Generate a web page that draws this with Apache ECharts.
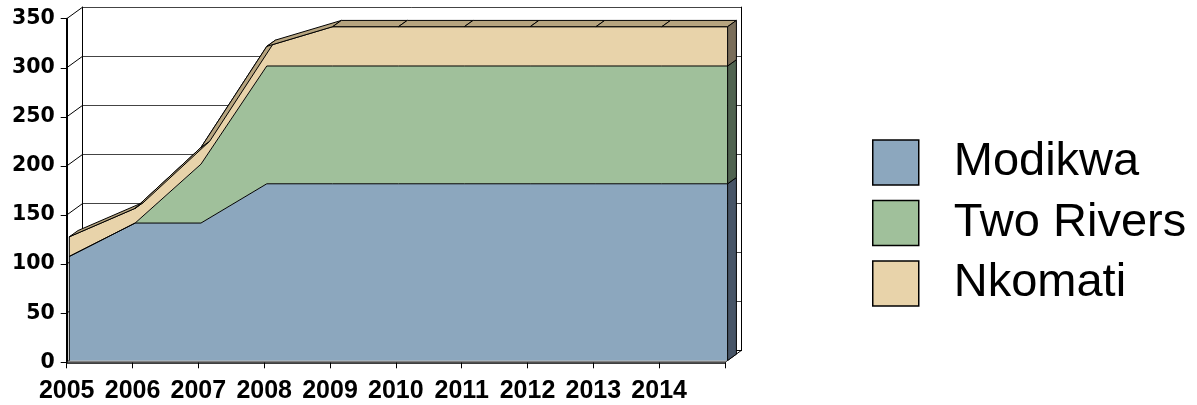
<!DOCTYPE html>
<html>
<head>
<meta charset="utf-8">
<script src="https://cdn.jsdelivr.net/npm/echarts@6/dist/echarts.min.js"></script>
<style>
  html, body { margin: 0; padding: 0; background: #fff; }
  #chart { width: 1197px; height: 405px; }
</style>
</head>
<body>
<div id="chart"></div>
<script>
// ---- data ----
const categories = ['2005', '2006', '2007', '2008', '2009', '2010', '2011', '2012', '2013', '2014', ''];
const modikwa   = [106, 140, 140, 180, 180, 180, 180, 180, 180, 180, 180];
const twoRivers = [0, 0, 60, 120, 120, 120, 120, 120, 120, 120, 120];
const nkomati   = [20, 15, 17, 20, 40, 40, 40, 40, 40, 40, 40];
const seriesNames = ['Modikwa', 'Two Rivers', 'Nkomati'];
const yTicks = [0, 50, 100, 150, 200, 250, 300, 350];

// ---- style ----
const fills = ['#8CA7BE', '#A0C09B', '#E8D3AA'];
const sideFills = ['#475567', '#506350', '#7A6E5A'];
const topFill = '#B6A47F';
const WALL = [16, -11.6];   // depth of walls
const SER = [8.8, -6.3];    // depth of series block
const yLabelFont = { fontFamily: 'DejaVu Sans', fontWeight: 'bold', fontSize: 20.5, color: '#000' };
const xLabelFont = { fontFamily: 'Liberation Sans', fontWeight: 'bold', fontSize: 25, color: '#000' };

const n = categories.length;
const stackData = categories.map((c, i) => {
  const a = modikwa[i], b = a + twoRivers[i], t = b + nkomati[i];
  return [i, a, b, t];
});

const chart = echarts.init(document.getElementById('chart'), null, { renderer: 'canvas' });

function off(p, d) { return [p[0] + d[0], p[1] + d[1]]; }

const option = {
  animation: false,
  backgroundColor: '#fff',
  legend: {
    orient: 'vertical',
    left: 872, top: 139,
    padding: 0,
    itemWidth: 46, itemHeight: 45, itemGap: 13.5,
    icon: 'rect',
    itemStyle: { borderColor: '#000', borderWidth: 1.5 },
    textStyle: { fontFamily: 'Liberation Sans', fontSize: 47, lineHeight: 45, color: '#000', padding: [0, 0, 0, 30] },
    data: seriesNames,
    selectedMode: false
  },
  grid: [
    { left: 66.7, top: 18.7, width: 658.3, height: 343.6 },   // front axes
    { left: 82.7, top: 7.1, width: 658.3, height: 343.6 },    // back wall
    { left: 69.3, top: 16.9, width: 658.3, height: 343.6 }    // data plane
  ],
  xAxis: [
    { gridIndex: 0, type: 'category', data: categories, boundaryGap: false,
      axisLine: { show: true, lineStyle: { color: '#000', width: 1.5 } },
      axisTick: { show: true, length: 6, interval: 0, lineStyle: { color: '#000' } },
      axisLabel: Object.assign({ margin: 16, interval: 0 }, xLabelFont),
      splitLine: { show: false } },
    { gridIndex: 1, type: 'value', min: 0, max: 1,
      axisLine: { show: true, onZero: false, lineStyle: { color: '#000', width: 1 } },
      axisTick: { show: false }, axisLabel: { show: false }, splitLine: { show: false } },
    { gridIndex: 2, type: 'category', data: categories, boundaryGap: false, show: false }
  ],
  yAxis: [
    { gridIndex: 0, type: 'value', min: 0, max: 350, interval: 50,
      axisLine: { show: true, lineStyle: { color: '#000', width: 2 } },
      axisTick: { show: true, length: 6, lineStyle: { color: '#000' } },
      axisLabel: Object.assign({ margin: 12 }, yLabelFont),
      splitLine: { show: false } },
    { gridIndex: 1, type: 'value', min: 0, max: 350, interval: 50,
      axisLine: { show: true, lineStyle: { color: '#000', width: 1 } },
      axisTick: { show: false }, axisLabel: { show: false },
      splitLine: { show: true, lineStyle: { color: '#444', width: 1 } } },
    { gridIndex: 1, type: 'value', min: 0, max: 350, interval: 50, position: 'right',
      axisLine: { show: true, lineStyle: { color: '#000', width: 1 } },
      axisTick: { show: false }, axisLabel: { show: false }, splitLine: { show: false } },
    { gridIndex: 2, type: 'value', min: 0, max: 350, show: false }
  ],
  series: [
    // side wall diagonals + floor right edge
    {
      type: 'custom', xAxisIndex: 0, yAxisIndex: 0, silent: true, z: 1,
      data: yTicks.map(v => [0, v]).concat([[n - 1, 0]]),
      renderItem: function (params, api) {
        const p = api.coord([api.value(0), api.value(1)]);
        const q = off(p, WALL);
        return { type: 'line', shape: { x1: p[0], y1: p[1], x2: q[0], y2: q[1] },
                 style: { stroke: '#000', lineWidth: 1 } };
      }
    },
    // floor strip in front of the series
    {
      type: 'custom', xAxisIndex: 0, yAxisIndex: 0, silent: true, z: 1,
      data: [[0, n - 1]],
      renderItem: function (params, api) {
        const a = api.coord([api.value(0), 0]);
        const b = api.coord([api.value(1), 0]);
        const d = [WALL[0] * 0.16, WALL[1] * 0.16];
        return { type: 'polygon', shape: { points: [a, b, off(b, d), off(a, d)] },
                 style: { fill: '#808080', stroke: null } };
      }
    },
    // stacked areas
    ...seriesNames.map((name, k) => ({
      name: name, type: 'line', stack: 'total', xAxisIndex: 2, yAxisIndex: 3,
      data: [modikwa, twoRivers, nkomati][k],
      showSymbol: false, symbol: 'none', smooth: false, z: 3,
      itemStyle: { color: fills[k] },
      lineStyle: { color: '#000', width: 1 },
      areaStyle: { color: fills[k], opacity: 1 }
    })),
    // 3D top surface, end faces, left edge
    {
      type: 'custom', xAxisIndex: 2, yAxisIndex: 3, silent: true, z: 4,
      data: stackData,
      renderItem: function (params, api) {
        const i = api.value(0);
        const children = [];
        const levels = [0, api.value(1), api.value(2), api.value(3)];
        if (i < n - 1) {
          const next = stackData[i + 1];
          const p1 = api.coord([i, levels[3]]);
          const p2 = api.coord([i + 1, next[3]]);
          children.push({ type: 'polygon',
            shape: { points: [p1, p2, off(p2, SER), off(p1, SER)] },
            style: { fill: topFill, stroke: '#000', lineWidth: 1, lineJoin: 'round' } });
        } else {
          for (let k = 0; k < 3; k++) {
            if (levels[k + 1] - levels[k] <= 0) continue;
            const lo = api.coord([i, levels[k]]);
            const hi = api.coord([i, levels[k + 1]]);
            children.push({ type: 'polygon',
              shape: { points: [lo, hi, off(hi, SER), off(lo, SER)] },
              style: { fill: sideFills[k], stroke: '#000', lineWidth: 1 } });
          }
        }
        if (i === 0) {
          const a = api.coord([0, 0]);
          const b = api.coord([0, levels[3]]);
          children.push({ type: 'line', shape: { x1: a[0], y1: a[1], x2: b[0], y2: b[1] },
                          style: { stroke: '#000', lineWidth: 1 } });
        }
        return { type: 'group', children: children };
      }
    }
  ]
};
chart.setOption(option);
</script>
</body>
</html>
